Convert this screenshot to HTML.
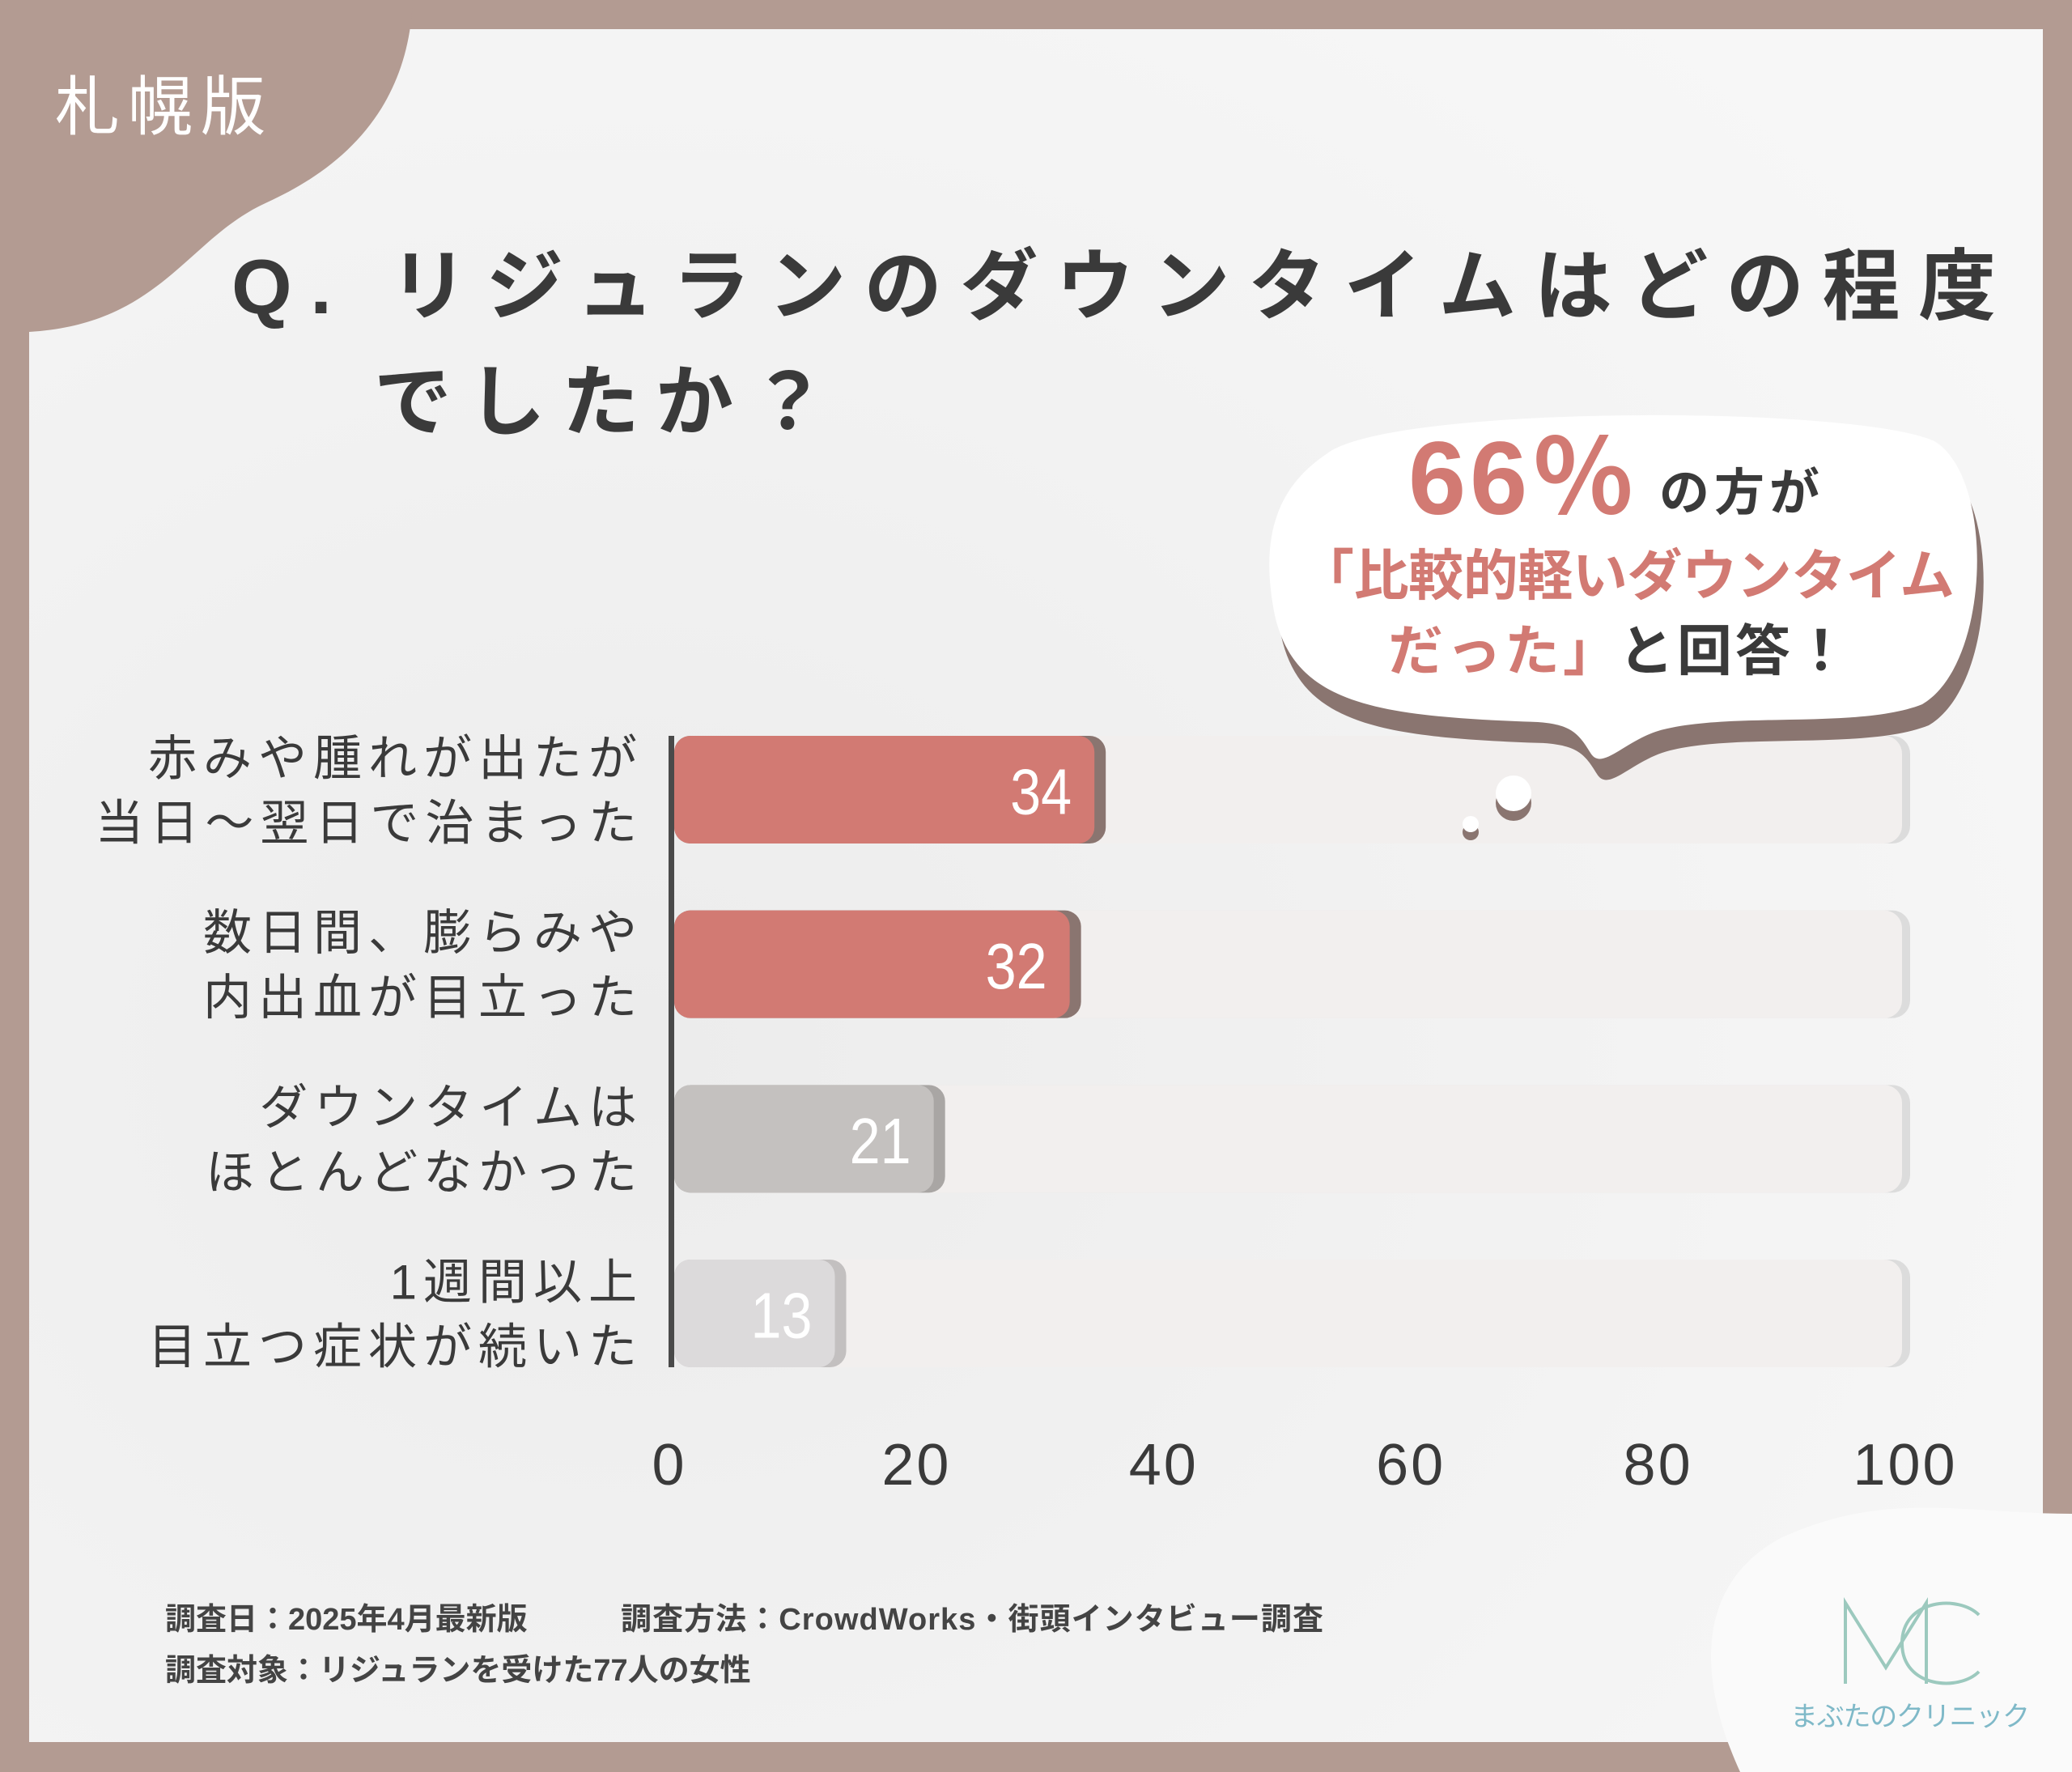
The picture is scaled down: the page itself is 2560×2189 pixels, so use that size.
<!DOCTYPE html>
<html><head><meta charset="utf-8"><style>
html,body{margin:0;padding:0;background:#b39b92;}
svg{display:block;font-family:"Liberation Sans","Noto Sans CJK JP",sans-serif;}
</style></head><body>
<svg width="2560" height="2189" viewBox="0 0 2560 2189">
<defs>
<radialGradient id="bg" cx="0.3" cy="0.6" r="0.8"><stop offset="0" stop-color="#ececec"/><stop offset="1" stop-color="#f7f7f7"/></radialGradient>
</defs>
<rect x="0" y="0" width="2560" height="2189" fill="#b39b92"/>
<rect x="36" y="36" width="2488" height="2116" fill="url(#bg)"/>
<path d="M0,0 H510 C505,120 440,200 330,250 C230,295 200,400 36,410 V0 Z" fill="#b39b92"/>
<text x="68" y="160" font-size="80" fill="#fff" letter-spacing="10">札幌版</text>
<text x="286" y="387" font-size="96" font-weight="bold" fill="#3a3a3a" textLength="2180">Q. リジュランのダウンタイムはどの程度</text>
<text x="462" y="530" font-size="96" font-weight="bold" fill="#3a3a3a" textLength="560">でしたか？</text>

<path d="M2150,2189 C2100,2080 2090,1960 2200,1900 C2330,1840 2430,1870 2560,1870 V2189 Z" fill="#fafafa"/>
<g fill="none" stroke="#9cc9be" stroke-width="4">
<path d="M2280,2080 V1980 L2330,2060 L2380,1980 V2080"/>
<path d="M2445,1995 C2420,1970 2350,1975 2350,2030 C2350,2085 2420,2090 2445,2065"/>
</g>
<text x="2212" y="2132" font-size="34" fill="#7fb9c8" textLength="296">まぶたのクリニック</text>

<text x="204" y="2013" font-size="38" font-weight="bold" fill="#444">調査日：2025年4月最新版</text>
<text x="767" y="2013" font-size="38" font-weight="bold" fill="#444" textLength="868">調査方法：CrowdWorks・街頭インタビュー調査</text>
<text x="204" y="2076" font-size="38" font-weight="bold" fill="#444">調査対象：リジュランを受けた77人の女性</text>

<g id="chart"></g>

<g>
<path transform="translate(8,26)" d="M1640,560 C1720,500 2290,500 2390,545 C2465,590 2460,820 2375,870 C2300,900 2150,880 2060,900 C2010,910 1980,955 1965,930 C1950,905 1940,895 1900,892 C1700,885 1600,870 1575,760 C1555,660 1580,600 1640,560 Z" fill="#8a7570"/>
<path d="M1640,560 C1720,500 2290,500 2390,545 C2465,590 2460,820 2375,870 C2300,900 2150,880 2060,900 C2010,910 1980,955 1965,930 C1950,905 1940,895 1900,892 C1700,885 1600,870 1575,760 C1555,660 1580,600 1640,560 Z" fill="#ffffff"/>
</g>
<text x="1740" y="635" font-size="128" font-weight="bold" fill="#d27a73" textLength="280">66％</text>
<text x="2050" y="630" font-size="62" font-weight="bold" fill="#3a3a3a" letter-spacing="6">の方が</text>
<text x="1605" y="735" font-size="68" font-weight="bold" fill="#d27a73" textLength="810">「比較的軽いダウンタイム</text>
<text x="1715" y="828" font-size="68" font-weight="bold" fill="#d27a73" letter-spacing="4">だった」</text>
<text x="2000" y="828" font-size="68" font-weight="bold" fill="#3a3a3a" letter-spacing="4">と回答！</text>

<script>
const categories1 = ["赤みや腫れが出たが","数日間、膨らみや","ダウンタイムは","1週間以上"];
const categories2 = ["当日〜翌日で治まった","内出血が目立った","ほとんどなかった","目立つ症状が続いた"];
const values = [34, 32, 21, 13];
const ticks = [0, 20, 40, 60, 80, 100];
const colors = ["#d27a73","#d27a73","#c4c1bf","#dcdadb"];
const shadows = ["#8a7570","#8a7570","#a9a6a4","#c3c0c0"];
const NS = "http://www.w3.org/2000/svg";
const X0 = 833, X1 = 2360;
function xs(v){ return X0 + (X1 - X0) * v / 100; }
const barTop = [909, 1125, 1340, 1556], barH = 133;
function yb(i){ return barTop[0] + i * ((barTop[3]-barTop[0])/3); }
const g = document.getElementById("chart");
function mk(tag, attrs){ const e = document.createElementNS(NS, tag); for (const k in attrs) e.setAttribute(k, attrs[k]); g.appendChild(e); return e; }
values.forEach((v, i) => {
  const y = yb(i);
  const tr = mk("rect", {x: X0, y: y, width: xs(100)-X0, height: barH, rx: 22, fill: "#dcdcdc"});
  
  
  const t = mk("rect", {x: X0, y: y, width: xs(100)-X0-10, height: barH, rx: 22, fill: "#f2efee"});
  
  
  const s = mk("rect", {x: X0, y: y, width: xs(v)-X0+14, height: barH, rx: 20, fill: shadows[i]});
  
  
  const b = mk("rect", {x: X0, y: y, width: xs(v)-X0, height: barH, rx: 20, fill: colors[i]});
  
  
  const vt = mk("text", {x: xs(v)-28, y: y+barH/2+30, "font-size": 80, fill: "#fff", "text-anchor": "end", textLength: 76, lengthAdjust: "spacingAndGlyphs"});
  vt.textContent = v;
  
  
  const l1 = mk("text", {x: 795, y: y+barH/2-18, "font-size": 60, fill: "#3a3a3a", "text-anchor": "end", "letter-spacing": 8});
  l1.textContent = categories1[i];
  
  
  const l2 = mk("text", {x: 795, y: y+barH/2+62, "font-size": 60, fill: "#3a3a3a", "text-anchor": "end", "letter-spacing": 8});
  l2.textContent = categories2[i];
  
  
});
const ax = mk("rect", {x: X0-7, y: barTop[0], width: 7, height: yb(3)+barH-barTop[0], fill: "#4a4a4a"});


ticks.forEach(tv => {
  const tt = mk("text", {x: xs(tv)-6, y: 1834, "font-size": 72, fill: "#3a3a3a", "text-anchor": "middle", "letter-spacing": 3});
  tt.textContent = tv;
  
  
});
const d1 = mk("circle", {cx: 1870, cy: 992, r: 22, fill: "#8a7570"});


const d2 = mk("circle", {cx: 1870, cy: 980, r: 22, fill: "#fff"});


const d3 = mk("circle", {cx: 1817, cy: 1028, r: 10, fill: "#8a7570"});


const d4 = mk("circle", {cx: 1817, cy: 1018, r: 10, fill: "#fff"});


</script>
</svg>
</body></html>
